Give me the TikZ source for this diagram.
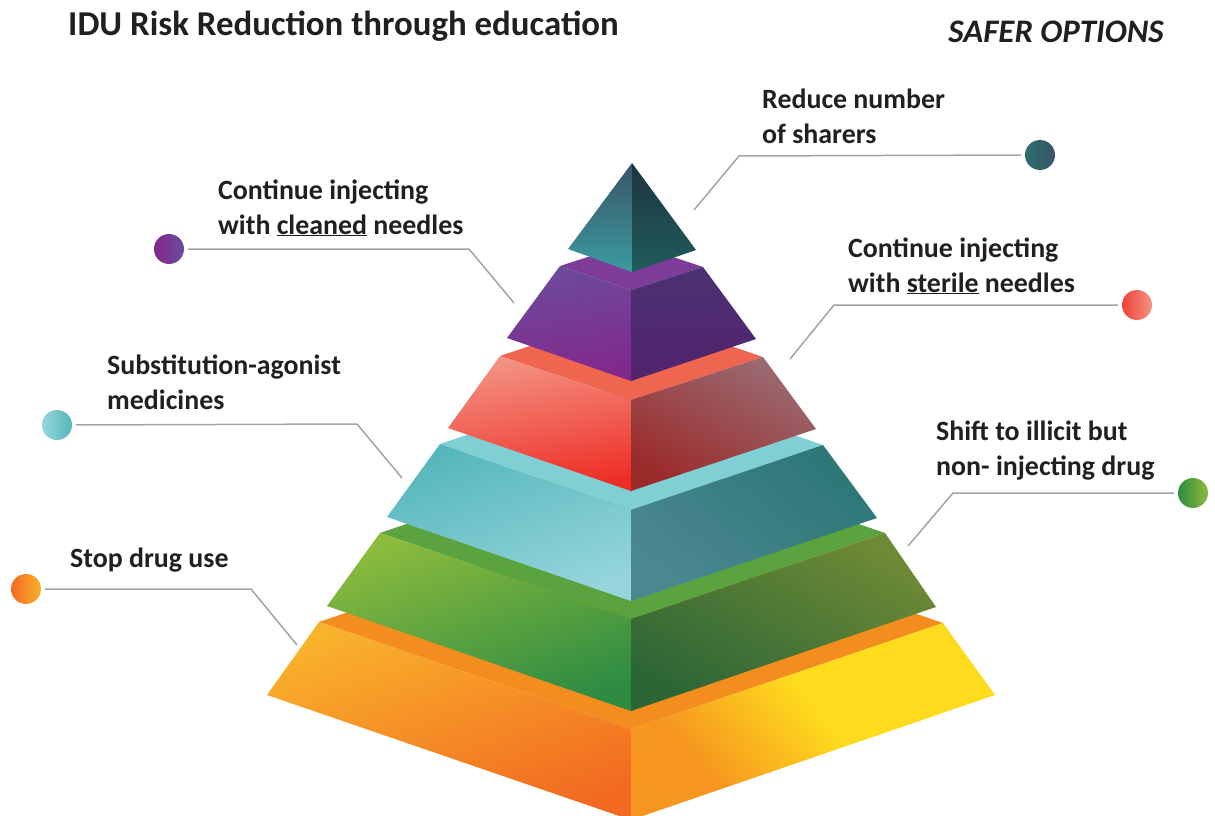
\documentclass[tikz,border=0pt]{standalone}
\usepackage{fontspec}
\setmainfont{Carlito}
\definecolor{txt}{HTML}{231F20}
\definecolor{lead}{HTML}{A3A3A3}
% orange tier
\definecolor{oTop}{HTML}{F28D1E}
\definecolor{oL1}{HTML}{F9B22B}
\definecolor{oL2}{HTML}{F26A21}
\definecolor{oR1}{HTML}{F6961F}
\definecolor{oR2}{HTML}{FEDC1D}
% green tier
\definecolor{gTop}{HTML}{5BA33F}
\definecolor{gL1}{HTML}{8CBB3D}
\definecolor{gL2}{HTML}{2E8C42}
\definecolor{gR1}{HTML}{6E8A35}
\definecolor{gR2}{HTML}{2D6636}
% cyan tier
\definecolor{cTop}{HTML}{80CFD5}
\definecolor{cL1}{HTML}{55B7BB}
\definecolor{cL2}{HTML}{95D5DC}
\definecolor{cR1}{HTML}{2D7777}
\definecolor{cR2}{HTML}{4A8890}
% red tier
\definecolor{rTop}{HTML}{EF6550}
\definecolor{rL1}{HTML}{F39484}
\definecolor{rL2}{HTML}{EE2D25}
\definecolor{rR1}{HTML}{9A6B72}
\definecolor{rR2}{HTML}{9B2B2B}
% purple tier
\definecolor{pTop}{HTML}{7E3B9A}
\definecolor{pL1}{HTML}{6C4B9C}
\definecolor{pL2}{HTML}{82288A}
\definecolor{pR1}{HTML}{4B3172}
\definecolor{pR2}{HTML}{52236E}
% teal top
\definecolor{tL1}{HTML}{3A5566}
\definecolor{tL2}{HTML}{3B9BA1}
\definecolor{tR1}{HTML}{1E3540}
\definecolor{tR2}{HTML}{1F5C5C}
\pgfdeclareverticalshading{orangeright}{100bp}{color(0bp)=(oR1); color(30bp)=(oR1); color(52bp)=(oR2); color(100bp)=(oR2)}
\begin{document}
\begin{tikzpicture}[x=1bp,y=-1bp,
  leader/.style={draw=lead, line width=1.5bp, shorten <=4bp},
  lbl/.style={anchor=base west, inner sep=0pt, align=left, text=txt,
    font=\fontsize{28}{35}\selectfont\bfseries},
  dot/.style={circle, minimum size=30bp, inner sep=0pt, shading angle=45}]
\useasboundingbox (0,0) rectangle (1215,816);

% ---------- orange tier ----------
\fill[oTop] (319,622) -- (631,516) -- (943,623) -- (631,729) -- cycle;
\shade[top color=oL1, bottom color=oL2, shading angle=20] (319,622) -- (631,729) -- (631,820) -- (267,695) -- cycle;
\shade[shading=orangeright, shading angle=-50] (631,729) -- (943,623) -- (995,695) -- (631,820) -- cycle;

% ---------- green tier ----------
\fill[gTop] (380,533) -- (632,447) -- (885,533) -- (631,619) -- cycle;
\shade[top color=gL1, bottom color=gL2, shading angle=20] (380,533) -- (631,619) -- (631,711) -- (327,606) -- cycle;
\shade[top color=gR1, bottom color=gR2, shading angle=-30] (631,619) -- (885,533) -- (936,607) -- (631,711) -- cycle;

% ---------- cyan tier ----------
\fill[cTop] (440,444) -- (632,379) -- (823,445) -- (631,510) -- cycle;
\shade[top color=cL1, bottom color=cL2, shading angle=20] (440,444) -- (631,510) -- (631,601) -- (387,517) -- cycle;
\shade[top color=cR1, bottom color=cR2, shading angle=-40] (631,510) -- (823,445) -- (877,518) -- (631,601) -- cycle;

% ---------- red tier ----------
\fill[rTop] (500,356) -- (631,312) -- (763,357) -- (631,400) -- cycle;
\shade[top color=rL1, bottom color=rL2, shading angle=10] (500,356) -- (631,400) -- (631,491) -- (448,428) -- cycle;
\shade[top color=rR1, bottom color=rR2, shading angle=-30] (631,400) -- (763,357) -- (816,429) -- (631,491) -- cycle;

% ---------- purple tier ----------
\fill[pTop] (560,266) -- (631,243) -- (703,267) -- (631,290) -- cycle;
\shade[top color=pL1, bottom color=pL2, shading angle=10] (560,266) -- (631,290) -- (631,381) -- (507,338) -- cycle;
\shade[top color=pR1, bottom color=pR2] (631,290) -- (703,267) -- (756,339) -- (631,381) -- cycle;

% ---------- teal top ----------
\shade[top color=tL1, bottom color=tL2] (632,163) -- (632,272) -- (568,249) -- cycle;
\shade[top color=tR1, bottom color=tR2] (632,163) -- (696,250) -- (632,272) -- cycle;

% ---------- titles ----------
\node[anchor=base west, inner sep=0pt, text=txt, font=\fontsize{35}{40}\selectfont\bfseries] (title) at (68,36) {IDU Risk Reduction through education};
\node[anchor=base east, inner sep=0pt, text=txt, font=\fontsize{33}{40}\selectfont\bfseries\itshape] (safer) at (1164,43) {SAFER OPTIONS};

% ---------- labels ----------
\node[lbl] (lShare) at (762,143) {Reduce number\\of sharers};
\node[lbl] (lClean) at (218,234) {Continue injecting\\with \underline{cleaned} needles};
\node[lbl] (lSter) at (848,292) {Continue injecting\\with \underline{sterile} needles};
\node[lbl] (lSubst) at (107,409) {Substitution-agonist\\medicines};
\node[lbl] (lShift) at (936,475) {Shift to illicit but\\non- injecting drug};
\node[lbl] (lStop) at (70,567) {Stop drug use};

% ---------- dots ----------
\node[dot, left color=tR2!80!cL1, right color=tL1] (dShare) at (1040,155) {};
\node[dot, left color=pL2, right color=pL1] (dClean) at (169,249) {};
\node[dot, left color=rL2!80!rL1, right color=rL1] (dSter) at (1137,305) {};
\node[dot, left color=cL2, right color=cL1] (dSubst) at (57,425) {};
\node[dot, left color=gL2, right color=gL1] (dShift) at (1193,493) {};
\node[dot, left color=oL2, right color=oL1] (dStop) at (26,589) {};

% ---------- leader lines ----------
\coordinate (bShare) at (739,156);  \coordinate (eShare) at (694,210);
\coordinate (bClean) at (469,249);  \coordinate (eClean) at (514,303);
\coordinate (bSter) at (834,305);   \coordinate (eSter) at (790,359);
\coordinate (bSubst) at (357,424);  \coordinate (eSubst) at (402,478);
\coordinate (bShift) at (953,493);  \coordinate (eShift) at (908,546);
\coordinate (bStop) at (251,589);   \coordinate (eStop) at (297,645);

\draw[leader] (dShare.west) -- (bShare) -- (eShare);
\draw[leader] (dClean.east) -- (bClean) -- (eClean);
\draw[leader] (dSter.west) -- (bSter) -- (eSter);
\draw[leader] (dSubst.east) -- (bSubst) -- (eSubst);
\draw[leader] (dShift.west) -- (bShift) -- (eShift);
\draw[leader] (dStop.east) -- (bStop) -- (eStop);
\end{tikzpicture}
\end{document}
